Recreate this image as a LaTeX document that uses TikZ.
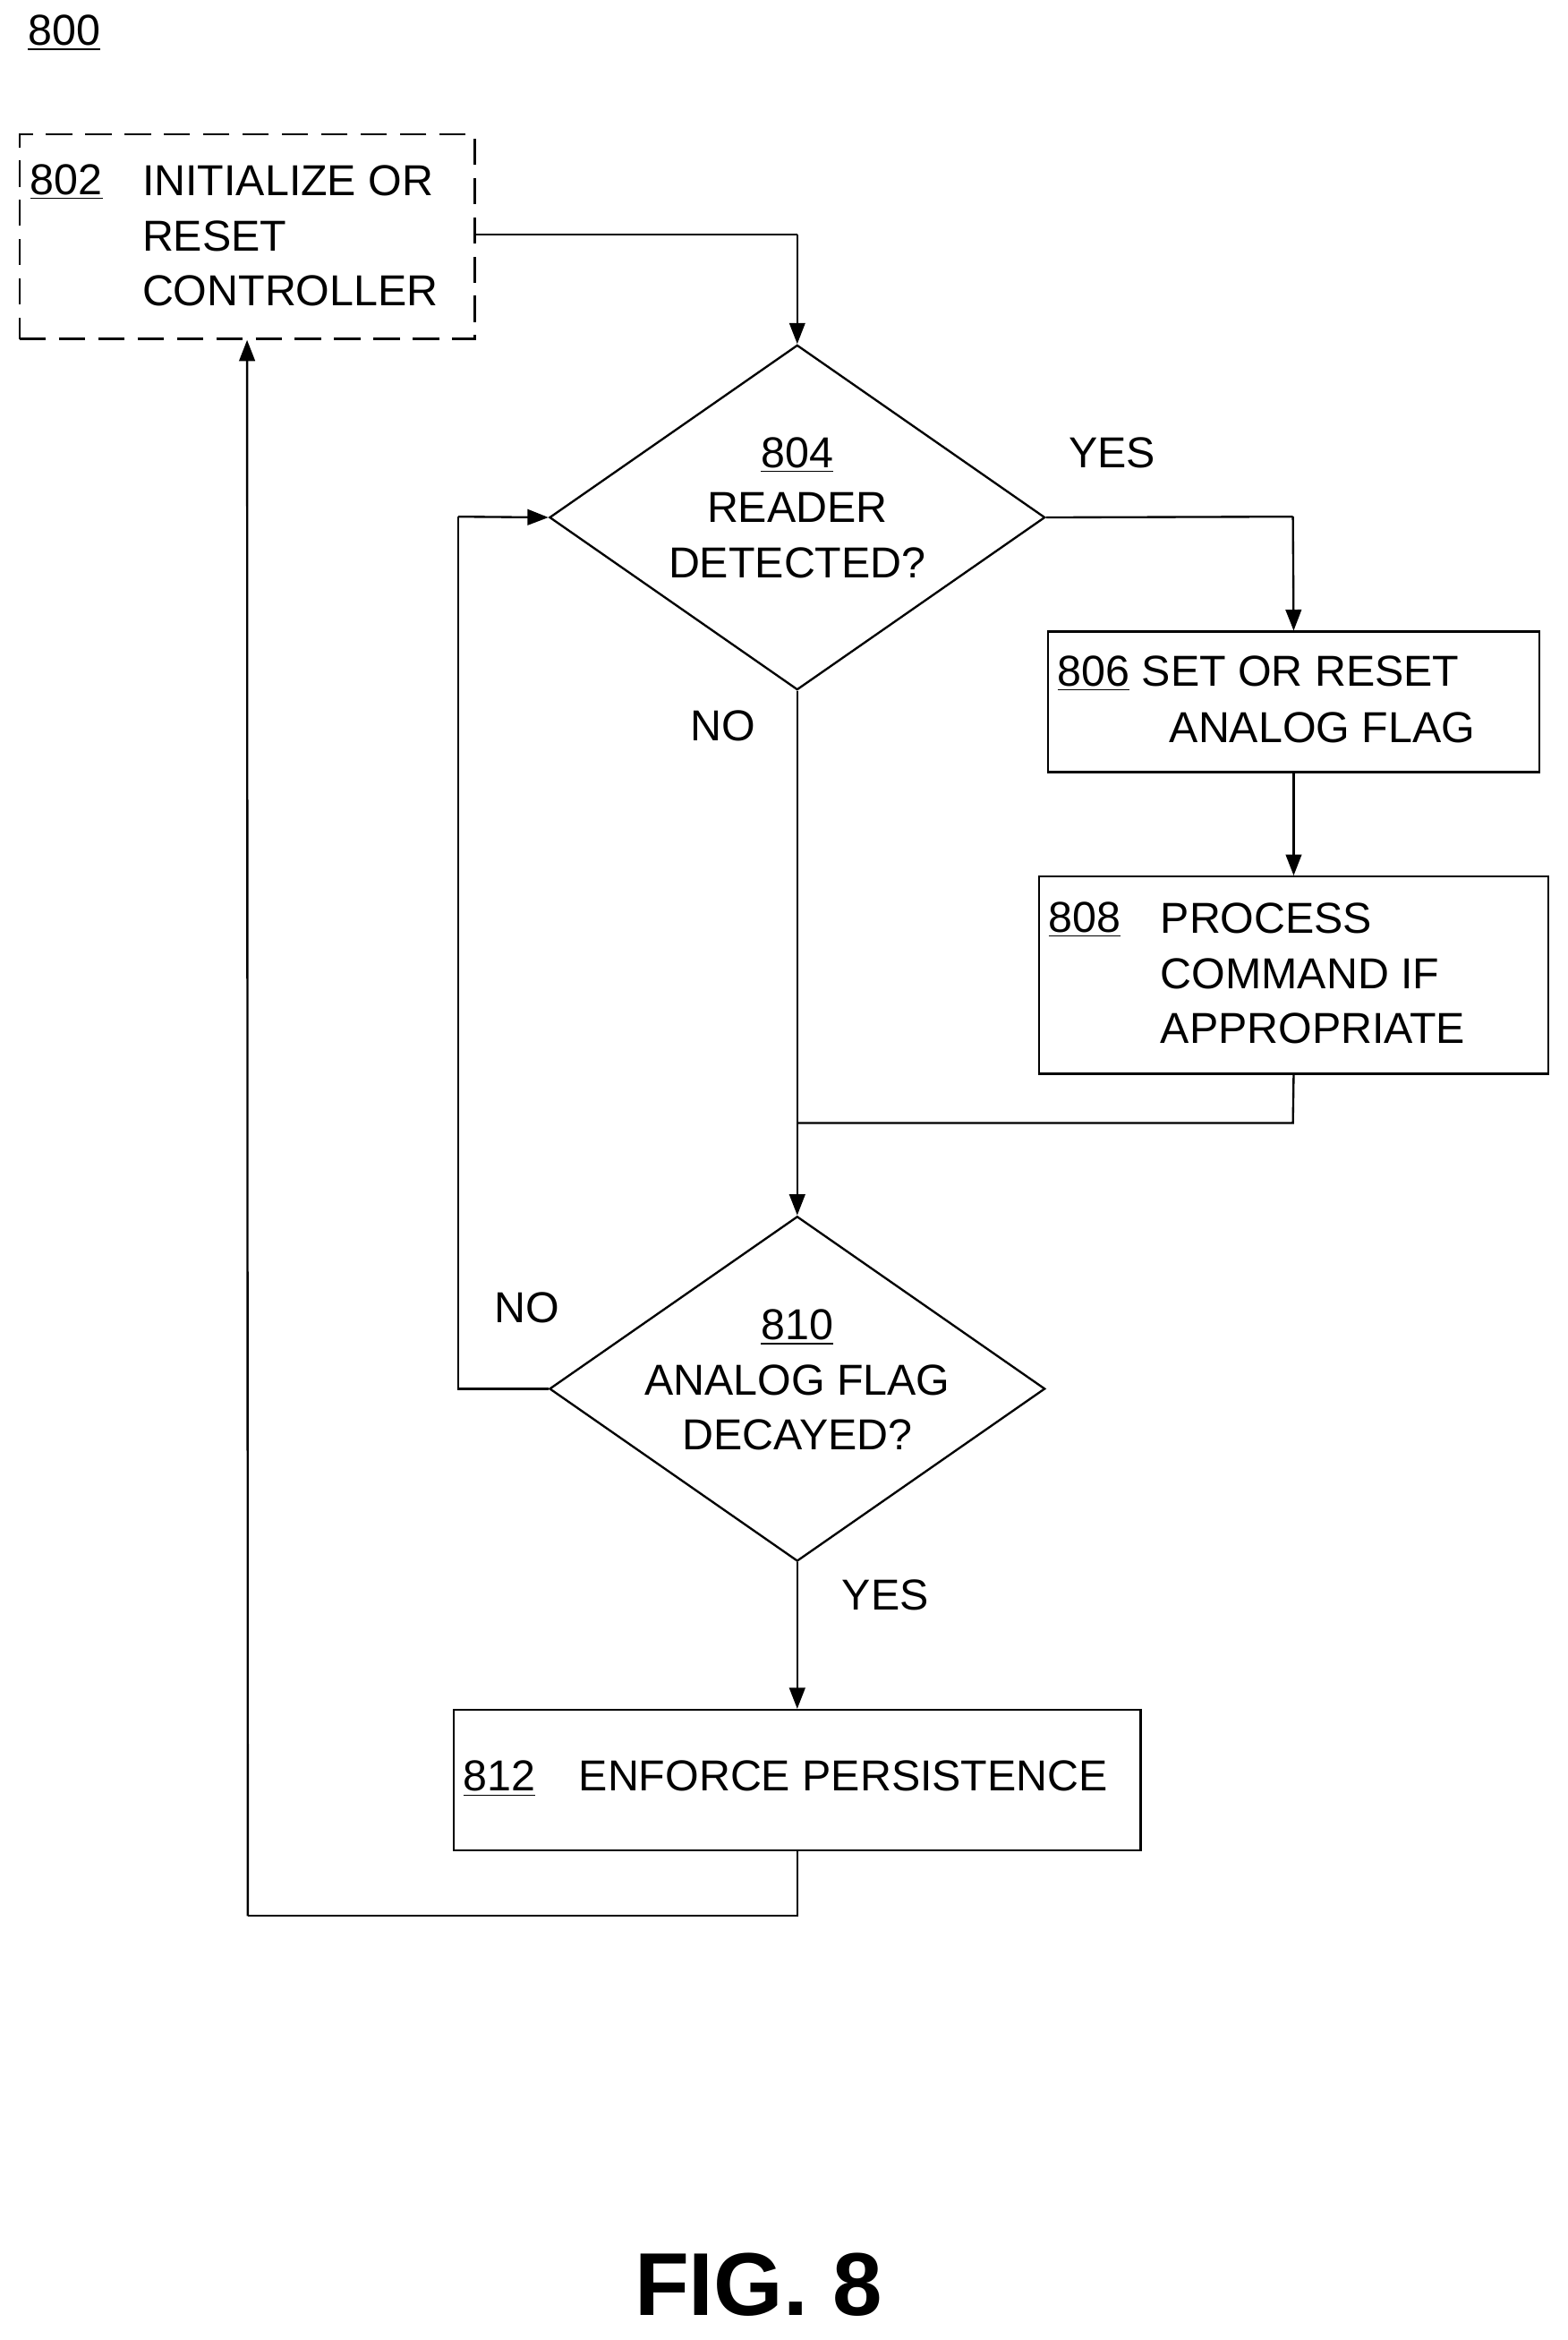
\documentclass[tikz,border=0pt]{standalone}
\usepackage{fontspec}
\setmainfont{Liberation Sans}
\usetikzlibrary{shapes.geometric,arrows.meta}
\begin{document}
\begin{tikzpicture}[x=0.02cm,y=-0.02cm,
    every node/.style={font=\fontsize{16.5}{21}\selectfont},
    box/.style={draw,thick,inner sep=0pt},
    dec/.style={draw,thick,diamond,inner sep=0pt,shape aspect=1.44,minimum width=6.64cm,minimum height=4.62cm},
    txt/.style={anchor=west,align=left,inner sep=0pt},
    flow/.style={thick,-{Triangle[length=8pt,width=6pt]}},
    line/.style={thick}]
\useasboundingbox (0,0) rectangle (1050,1567);
\node (fig) at (43,22) {\underline{800}};
% boxes
\node[box,dash pattern=on 10pt off 5pt,minimum width=6.1cm,minimum height=2.74cm] (init) at (165.5,158.5) {};
\node[txt] (initno) at (20,122) {\underline{802}};
\node[txt] (inittx) at (95,158) {INITIALIZE OR\\RESET\\CONTROLLER};
\node[dec] (reader) at (534,346.5) {};
\node[align=center,inner sep=0pt] (readertx) at (534,340) {\underline{804}\\READER\\DETECTED?};
\node[box,minimum width=6.58cm,minimum height=1.88cm] (flag) at (866.5,470) {};
\node[txt] (flagtx) at (708,451) {\underline{806} SET OR RESET};
\node[txt] (flagtx2) at (783,487) {ANALOG FLAG};
\node[box,minimum width=6.82cm,minimum height=2.64cm] (proc) at (866.5,653) {};
\node[txt] (procno) at (702,616) {\underline{808}};
\node[txt] (proctx) at (777,652) {PROCESS\\COMMAND IF\\APPROPRIATE};
\node[dec] (decay) at (534,930) {};
\node[align=center,inner sep=0pt] (decaytx) at (534,924) {\underline{810}\\ANALOG FLAG\\DECAYED?};
\node[box,minimum width=9.2cm,minimum height=1.88cm] (enf) at (534,1192) {};
\node[txt] (enftx) at (310,1191) {\underline{812}\quad ENFORCE PERSISTENCE};
% connectors
\coordinate (j1) at (534,157);
\coordinate (j2) at (866,346);
\coordinate (j3) at (866,752);
\coordinate (j4) at (534,752);
\coordinate (j5) at (307,930);
\coordinate (j6) at (307,346);
\coordinate (j7) at (534,1283);
\coordinate (j8) at (166,1283);
\draw[line] (init.east |- j1) -- (j1);
\draw[flow] (j1) -- (reader.north);
\draw[line] (reader.east) -- (j2);
\draw[flow] (j2) -- (flag.north);
\draw[flow] (reader.south) -- (decay.north);
\draw[flow] (flag.south) -- (proc.north);
\draw[line] (proc.south) -- (j3) -- (j4);
\draw[line] (decay.west) -- (j5) -- (j6);
\draw[flow] (j6) -- (reader.west);
\draw[flow] (decay.south) -- (enf.north);
\draw[line] (enf.south) -- (j7) -- (j8);
\draw[flow] (j8) -- (init.south);
% labels
\node (yes1) at (745,303) {YES};
\node (no1) at (484,486) {NO};
\node (no2) at (353,876) {NO};
\node (yes2) at (593,1068) {YES};
\node[font=\fontsize{34}{40}\selectfont\bfseries] (title) at (508,1530) {FIG. 8};
\end{tikzpicture}
\end{document}
